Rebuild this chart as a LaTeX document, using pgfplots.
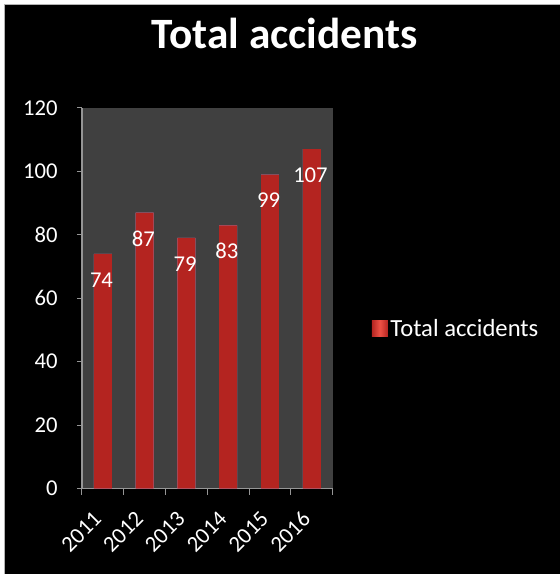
\documentclass[border=0pt]{standalone}
\usepackage{fontspec}
\setmainfont{Carlito}
\usepackage{pgfplots}
\pgfplotsset{compat=1.18}
\definecolor{bardark}{RGB}{180,36,32}
\definecolor{barlight}{RGB}{238,82,70}
\definecolor{plotbg}{RGB}{64,64,64}
\definecolor{axisgray}{RGB}{150,150,150}
\begin{document}
\begin{tikzpicture}[x=1pt,y=1pt]
\fill[white] (0,0) rectangle (420,430.5);
\fill[black] (3.75,0) rectangle (420,426.75);
\draw[gray!60, line width=0.75pt] (3.75,0) -- (3.75,426.75) -- (420,426.75);
\node[anchor=base, text=white, font=\fontsize{32.5}{38}\selectfont\bfseries, inner sep=0pt] at (213.75,393.75) {Total accidents};
\begin{axis}[
  at={(61.5pt,63.75pt)}, anchor=south west,
  scale only axis, width=188.25pt, height=285.75pt,
  ybar, bar width=13.5pt,
  xmin=-0.5, xmax=5.5, ymin=0, ymax=120,
  axis lines*=left,
  axis line style={draw=axisgray, line width=1pt},
  axis background/.style={fill=plotbg},
  xtick={0,1,2,3,4,5},
  xticklabels={2011,2012,2013,2014,2015,2016},
  minor xtick={-0.5,0.5,1.5,2.5,3.5,4.5,5.5},
  ytick={0,20,40,60,80,100,120},
  tick align=outside,
  major tick length=3.75pt, minor tick length=4.5pt,
  every tick/.style={draw=axisgray, line width=0.75pt},
  major x tick style={draw=none},
  tick label style={font=\fontsize{17}{19}\selectfont, text=white},
  /pgf/number format/assume math mode=true,
  yticklabel style={xshift=-11pt},
  xticklabel style={rotate=45, anchor=east, xshift=-13.3pt, yshift=-8.8pt, inner sep=1pt},
  nodes near coords,
  nodes near coords style={text=white, font=\fontsize{17}{19}\selectfont, anchor=center, yshift=-19.5pt, xshift=-1pt},
  every axis plot/.append style={draw=none, left color=bardark, middle color=barlight, right color=bardark},
  legend style={at={(1.155,0.42)}, anchor=west, draw=none, fill=none, text=white,
    font=\fontsize{18.5}{21}\selectfont, inner sep=0pt},
  legend image code/.code={\shade[left color=bardark, right color=bardark, middle color=barlight] (0pt,-6pt) rectangle (12pt,6pt);},
]
\addplot coordinates {(0,74) (1,87) (2,79) (3,83) (4,99) (5,107)};
\addlegendentry{Total accidents}
\end{axis}
\end{tikzpicture}
\end{document}
